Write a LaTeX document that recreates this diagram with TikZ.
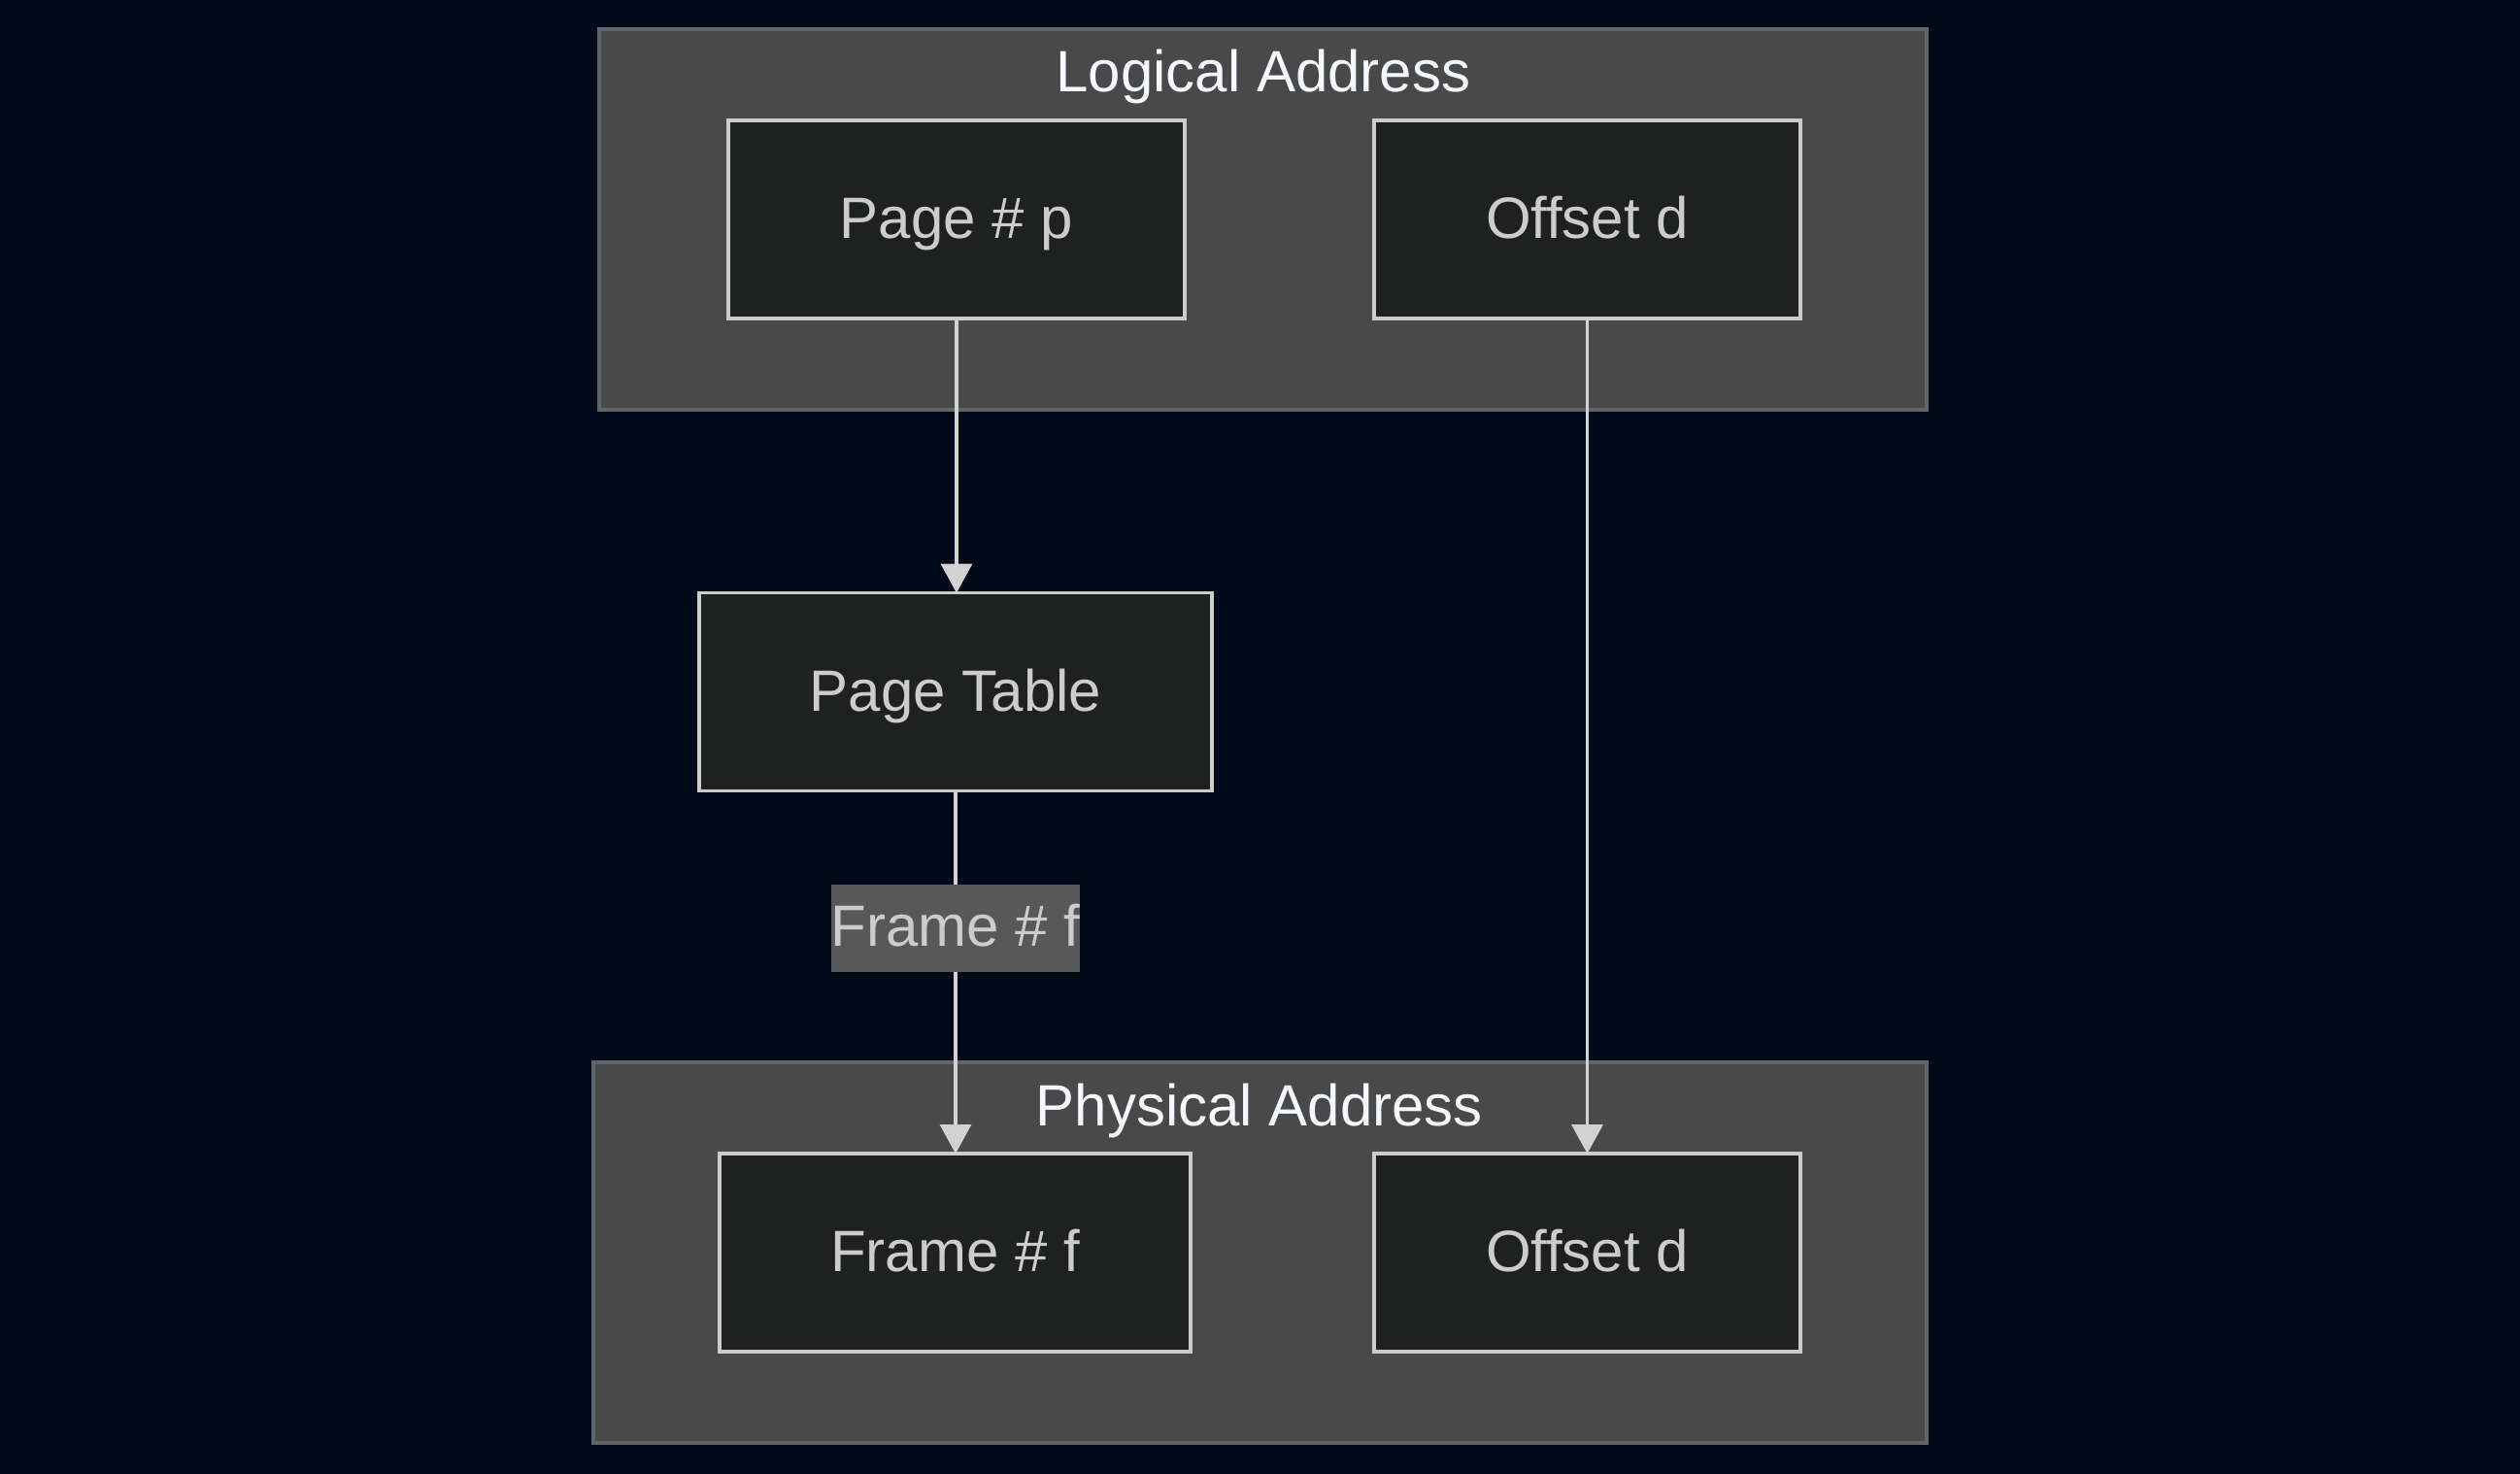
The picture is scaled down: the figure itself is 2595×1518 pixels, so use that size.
\documentclass[tikz,border=0pt]{standalone}
\usepackage{fontspec}
\setmainfont{Liberation Sans}
\usetikzlibrary{arrows.meta}
\definecolor{bgcol}{RGB}{1,8,24}
\definecolor{clfill}{RGB}{72,73,72}
\definecolor{cldraw}{RGB}{98,100,106}
\definecolor{ndfill}{RGB}{31,32,32}
\definecolor{nddraw}{RGB}{204,204,204}
\definecolor{ndtext}{RGB}{204,204,204}
\definecolor{ttext}{RGB}{245,248,252}
\definecolor{lbfill}{RGB}{88,88,88}
\definecolor{edgecol}{RGB}{210,210,210}
\tikzset{
  cluster/.style={draw=cldraw, fill=clfill, line width=3.5pt, inner sep=0pt},
  ctitle/.style={text=ttext, font=\fontsize{60}{72}\selectfont, anchor=base, inner sep=0pt},
  box/.style={draw=nddraw, fill=ndfill, line width=3.8pt, text=ndtext,
    font=\fontsize{60}{72}\selectfont, inner sep=0pt, minimum height=204pt,
    text height=43pt, text depth=4pt},
  elabel/.style={fill=lbfill, text=ndtext, font=\fontsize{60}{72}\selectfont,
    inner xsep=0pt, inner ysep=0pt, minimum height=90pt, text height=43pt, text depth=6pt},
  edge/.style={draw=edgecol, line width=3.2pt},
  arr/.style={edge, -{Triangle[width=32pt,length=30pt]}, shorten >=-2pt}
}
\begin{document}
\begin{tikzpicture}[x=1pt,y=-1pt]
\fill[bgcol] (0,0) rectangle (2595,1518);
\useasboundingbox (0,0) rectangle (2595,1518);
% clusters
\node[cluster, minimum width=1367pt, minimum height=392pt] (logical) at (1300.5,226) {};
\node[ctitle] (ltitle) at (1301,94) {Logical Address};
\node[cluster, minimum width=1373pt, minimum height=392pt] (physical) at (1297.5,1290) {};
\node[ctitle] (ptitle) at (1297,1159) {Physical Address};
% nodes
\node[box, minimum width=470pt] (pp) at (985,226) {Page \# p};
\node[box, minimum width=439pt] (od1) at (1634.5,226) {Offset d};
\node[box, minimum width=528pt] (pt) at (984,712.5) {Page Table};
\node[box, minimum width=485pt] (ff) at (983.5,1290) {Frame \# f};
\node[box, minimum width=439pt] (od2) at (1634.5,1290) {Offset d};
% edges
\draw[arr] (pp.south) -- (pp.south |- pt.north);
\draw[arr] (pt.south) -- node[elabel, pos=0.377] (lbl) {Frame \# f} (pt.south |- ff.north);
\draw[arr] (od1.south) -- (od2.north);
\end{tikzpicture}
\end{document}
